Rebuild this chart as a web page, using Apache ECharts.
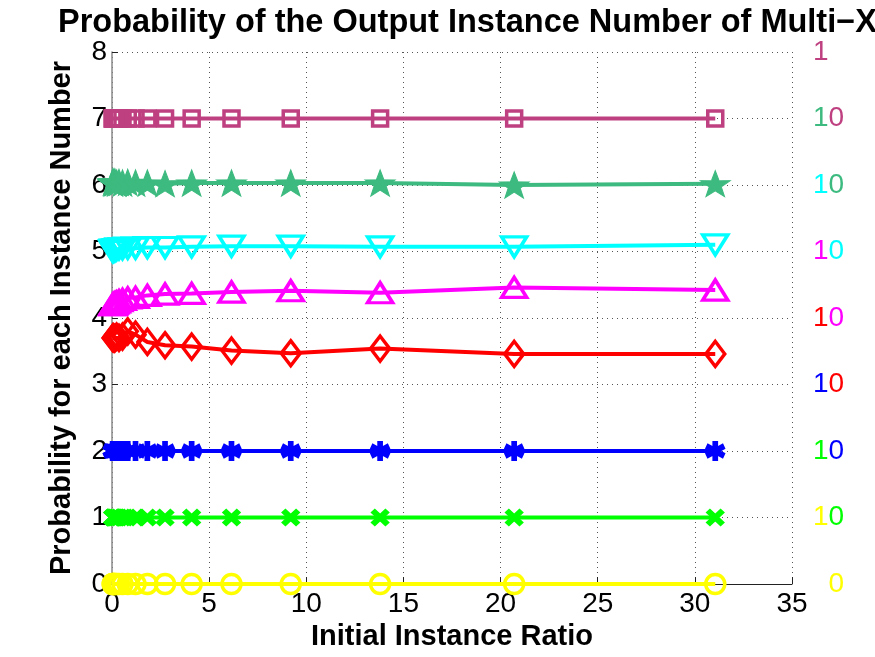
<!DOCTYPE html>
<html>
<head>
<meta charset="utf-8">
<script src="https://cdn.jsdelivr.net/npm/echarts@6/dist/echarts.min.js"></script>
<style>
  html, body { margin: 0; padding: 0; background: #fff; }
  #chart { width: 875px; height: 657px; }
</style>
</head>
<body>
<div id="chart"></div>
<script>
// x: initial instance ratio
const xRatio = [0.032, 0.048, 0.072, 0.108, 0.16, 0.24, 0.36, 0.54, 0.81, 1.21, 1.82, 2.73, 4.1, 6.15, 9.2, 13.8, 20.7, 31.05]

// each instance number sits in its own band [k, k+1]
const inst0 = [0, 0, 0, 0, 0, 0, 0, 0, 0, 0, 0, 0, 0, 0, 0, 0, 0, 0]
const inst1 = [1, 1, 1, 1, 1, 1, 1, 1, 1, 1, 1, 1, 1, 1, 1, 1, 1, 1]
const inst2 = [2, 2, 2, 2, 2, 2, 2, 2, 2, 2, 2, 2, 2, 2, 2, 2, 2, 2]
const inst3 = [3.70, 3.70, 3.71, 3.69, 3.70, 3.72, 3.70, 3.72, 3.80, 3.75, 3.64, 3.59, 3.57, 3.51, 3.47, 3.54, 3.46, 3.46]
const inst4 = [4.20, 4.21, 4.20, 4.22, 4.23, 4.24, 4.26, 4.28, 4.30, 4.31, 4.34, 4.36, 4.37, 4.39, 4.41, 4.38, 4.46, 4.42]
const inst5 = [5.01, 5.00, 5.02, 5.01, 5.02, 5.03, 5.04, 5.04, 5.05, 5.05, 5.06, 5.06, 5.07, 5.08, 5.08, 5.07, 5.07, 5.10]
const inst6 = [6.04, 6.05, 6.03, 6.05, 6.04, 6.03, 6.04, 6.03, 6.04, 6.03, 6.03, 6.02, 6.03, 6.03, 6.03, 6.03, 6.00, 6.02]
const inst7 = [7, 7, 7, 7, 7, 7, 7, 7, 7, 7, 7, 7, 7, 7, 7, 7, 7, 7]

const yTicks = [0, 1, 2, 3, 4, 5, 6, 7, 8]

const colors = ['#ffff00', '#00ff00', '#0000ff', '#ff0000', '#ff00ff', '#00ffff', '#3dba7f', '#bf4080']
const allData = [inst0, inst1, inst2, inst3, inst4, inst5, inst6, inst7]

const FONT = "'Liberation Sans', Arial, sans-serif"

// marker shapes, MATLAB style
const asterisk = 'path://M0,-10L0,10M-8.66,-5L8.66,5M-8.66,5L8.66,-5'
const cross = 'path://M-10,-10L10,10M-10,10L10,-10'
const downTri = 'path://M-10,-8L10,-8L0,8Z'
const star = 'path://M0,-10L2.35,-3.24L9.51,-3.09L3.8,1.24L5.88,8.09L0,4L-5.88,8.09L-3.8,1.24L-9.51,-3.09L-2.35,-3.24Z'
const markers = [
  { symbol: 'circle', size: 19, hollow: true, bw: 3.5 },
  { symbol: cross, size: [15, 14], hollow: true, bw: 6 },
  { symbol: asterisk, size: [18, 20], hollow: true, bw: 6 },
  { symbol: 'diamond', size: [19, 25], hollow: true, bw: 3.5 },
  { symbol: 'triangle', size: [25, 20], hollow: true, bw: 3.5 },
  { symbol: downTri, size: [25, 20], hollow: true, bw: 3.5 },
  { symbol: star, size: [30, 26], hollow: false, bw: 1 },
  { symbol: 'rect', size: 15, hollow: true, bw: 3.5 }
]

const series = allData.map((vals, k) => {
  const m = markers[k]
  return {
    type: 'line',
    data: xRatio.map((x, i) => [x, vals[i]]),
    symbol: m.symbol,
    symbolSize: m.size,
    showAllSymbol: true,
    clip: false,
    lineStyle: { color: colors[k], width: 4 },
    itemStyle: m.hollow
      ? { color: 'rgba(0,0,0,0)', borderColor: colors[k], borderWidth: m.bw }
      : { color: colors[k], borderColor: colors[k], borderWidth: m.bw },
    emphasis: { disabled: true },
    animation: false
  }
})

// right-side band labels: "1" of the band below, "0" of the band above
const rich = { blank: { color: 'rgba(0,0,0,0)', fontSize: 28, fontFamily: FONT } }
colors.forEach((c, k) => { rich['c' + k] = { color: c, fontSize: 28, fontFamily: FONT } })

const option = {
  backgroundColor: '#fff',
  title: {
    text: 'Probability of the Output Instance Number of Multi\u2212X',
    left: 53,
    top: 2,
    textStyle: { fontFamily: FONT, fontWeight: 'bold', fontSize: 32.5, color: '#000' }
  },
  grid: { left: 112, right: 83, top: 52, bottom: 73 },
  xAxis: {
    type: 'value',
    min: 0,
    max: 35,
    interval: 5,
    name: 'Initial Instance Ratio',
    nameLocation: 'middle',
    nameGap: 37,
    nameTextStyle: { fontFamily: FONT, fontWeight: 'bold', fontSize: 29, color: '#000' },
    axisLine: { lineStyle: { color: '#222', width: 1 } },
    axisTick: { inside: true, length: 7, lineStyle: { color: '#222' } },
    axisLabel: { fontFamily: FONT, fontSize: 28, color: '#000', margin: 6 },
    splitLine: { show: true, lineStyle: { color: '#555', type: [1, 4], width: 1 } }
  },
  yAxis: [
    {
      type: 'value',
      min: 0,
      max: 8,
      interval: 1,
      name: 'Probability for each Instance Number',
      nameLocation: 'middle',
      nameGap: 36,
      nameTextStyle: { fontFamily: FONT, fontWeight: 'bold', fontSize: 29, color: '#000' },
      axisLine: { show: true, lineStyle: { color: '#888', width: 1.5 } },
      axisTick: { show: true, inside: true, length: 6, lineStyle: { color: '#222' } },
      axisLabel: {
        fontFamily: FONT, fontSize: 28, color: '#000', margin: 5,
        formatter: v => yTicks.includes(v) ? String(v) : ''
      },
      splitLine: { show: true, lineStyle: { color: '#555', type: [1, 4], width: 1 } }
    },
    {
      type: 'value',
      min: 0,
      max: 8,
      interval: 1,
      position: 'right',
      axisLine: { show: false },
      axisTick: { show: false },
      splitLine: { show: false },
      axisLabel: {
        margin: 21,
        rich: rich,
        formatter: v => {
          if (v === 0) return '{blank|1}{c0|0}'
          if (v === 8) return '{c7|1}'
          return '{c' + (v - 1) + '|1}{c' + v + '|0}'
        }
      }
    }
  ],
  series: series
}

const chart = echarts.init(document.getElementById('chart'))
chart.setOption(option)
</script>
</body>
</html>
